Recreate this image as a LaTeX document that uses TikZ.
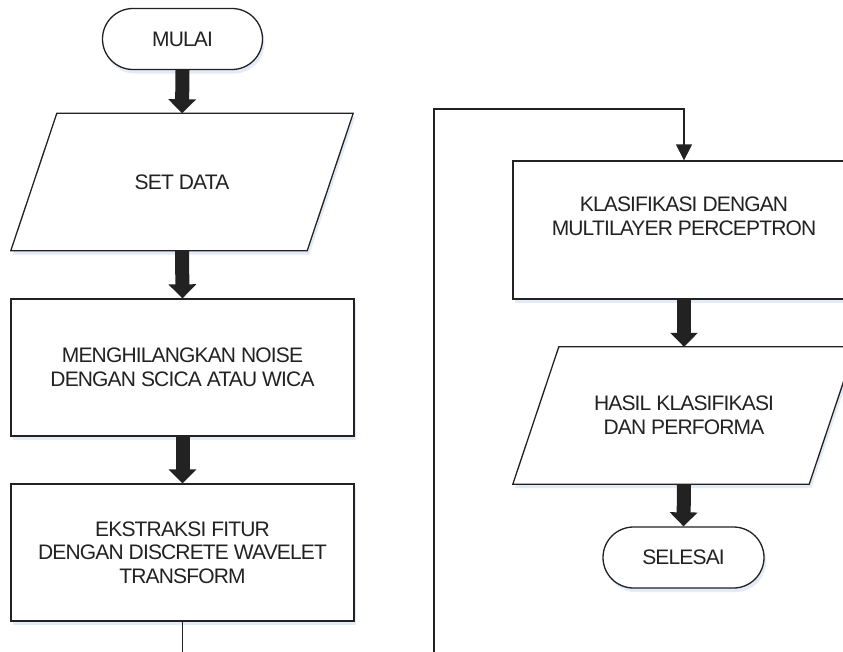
\documentclass[tikz,border=0pt]{standalone}
\usepackage{fontspec}
\setmainfont[LetterSpace=-4]{Liberation Sans}
\usetikzlibrary{arrows.meta,shadows}
\definecolor{ink}{HTML}{222222}
\definecolor{shade}{HTML}{DCE6F5}
\tikzset{
  every node/.style={text=ink, font=\fontsize{21}{23.5}\selectfont, align=center},
  boxshadow/.style={drop shadow={fill=shade, opacity=0.8, shadow xshift=2pt, shadow yshift=-4pt}},
  procbox/.style={draw=ink, line width=1.3pt, fill=white, rectangle, minimum width=343pt, minimum height=137pt, inner sep=0pt, boxshadow},
  termbox/.style={draw=ink, line width=1.3pt, fill=white, rectangle, rounded corners=30.5pt, minimum width=160pt, minimum height=61pt, inner sep=0pt, boxshadow},
  parabox/.style={rectangle, minimum width=296pt, minimum height=137pt, inner sep=0pt},
  paraline/.style={draw=ink, line width=1.3pt, fill=white},
  parashadow/.style={fill=shade, opacity=0.8},
  bigarrow/.style={draw=ink, line width=14pt, -{Triangle[width=27pt,length=14pt]}},
  thinline/.style={draw=ink, line width=1.3pt},
  thinarrow/.style={draw=ink, line width=1.3pt, -{Triangle[width=16pt,length=16pt]}}
}
\newcommand{\paragram}[1]{%
  \fill[parashadow] ([shift={(25pt,-4pt)}]#1.north west) -- ([shift={(25pt,-4pt)}]#1.north east) -- ([shift={(-21pt,-4pt)}]#1.south east) -- ([shift={(-21pt,-4pt)}]#1.south west) -- cycle;
  \filldraw[paraline] ([xshift=23pt]#1.north west) -- ([xshift=23pt]#1.north east) -- ([xshift=-23pt]#1.south east) -- ([xshift=-23pt]#1.south west) -- cycle;
}
\begin{document}
\begin{tikzpicture}[x=1pt,y=-1pt]
\clip (0,0) rectangle (843,651);
\fill[white] (0,0) rectangle (843,651);

% left column
\node[termbox] (mulai) at (182.5,39) {MULAI};
\node[parabox] (setdata) at (182,182) {};
\paragram{setdata}
\node at (setdata) {SET DATA};
\node[procbox] (noise) at (182.5,367.5) {MENGHILANGKAN NOISE\\DENGAN SCICA ATAU WICA};
\node[procbox] (ekstr) at (182.5,552.5) {EKSTRAKSI FITUR\\DENGAN DISCRETE WAVELET\\TRANSFORM};
\coordinate (e1) at (182.5,670);

% right column
\node[procbox, minimum height=138pt, minimum width=342pt] (klas) at (684,230) {KLASIFIKASI DENGAN\\MULTILAYER PERCEPTRON\\[4pt]};
\node[parabox] (hasil) at (684,415.5) {};
\paragram{hasil}
\node at (hasil) {HASIL KLASIFIKASI\\DAN PERFORMA};
\node[termbox, minimum width=161pt] (selesai) at (683.5,557.5) {SELESAI};
\coordinate (k0) at (434,670);
\coordinate (k1) at (434,109);

% connectors
\draw[bigarrow] (mulai.south) -- (setdata.north);
\draw[bigarrow] (setdata.south) -- (noise.north);
\draw[bigarrow] (noise.south) -- (ekstr.north);
\draw[thinline] (ekstr.south) -- (e1);
\draw[thinarrow] (k0) -- (k1) -| (klas.north);
\draw[bigarrow] (klas.south) -- (hasil.north);
\draw[bigarrow] (hasil.south) -- (selesai.north);
\end{tikzpicture}
\end{document}
